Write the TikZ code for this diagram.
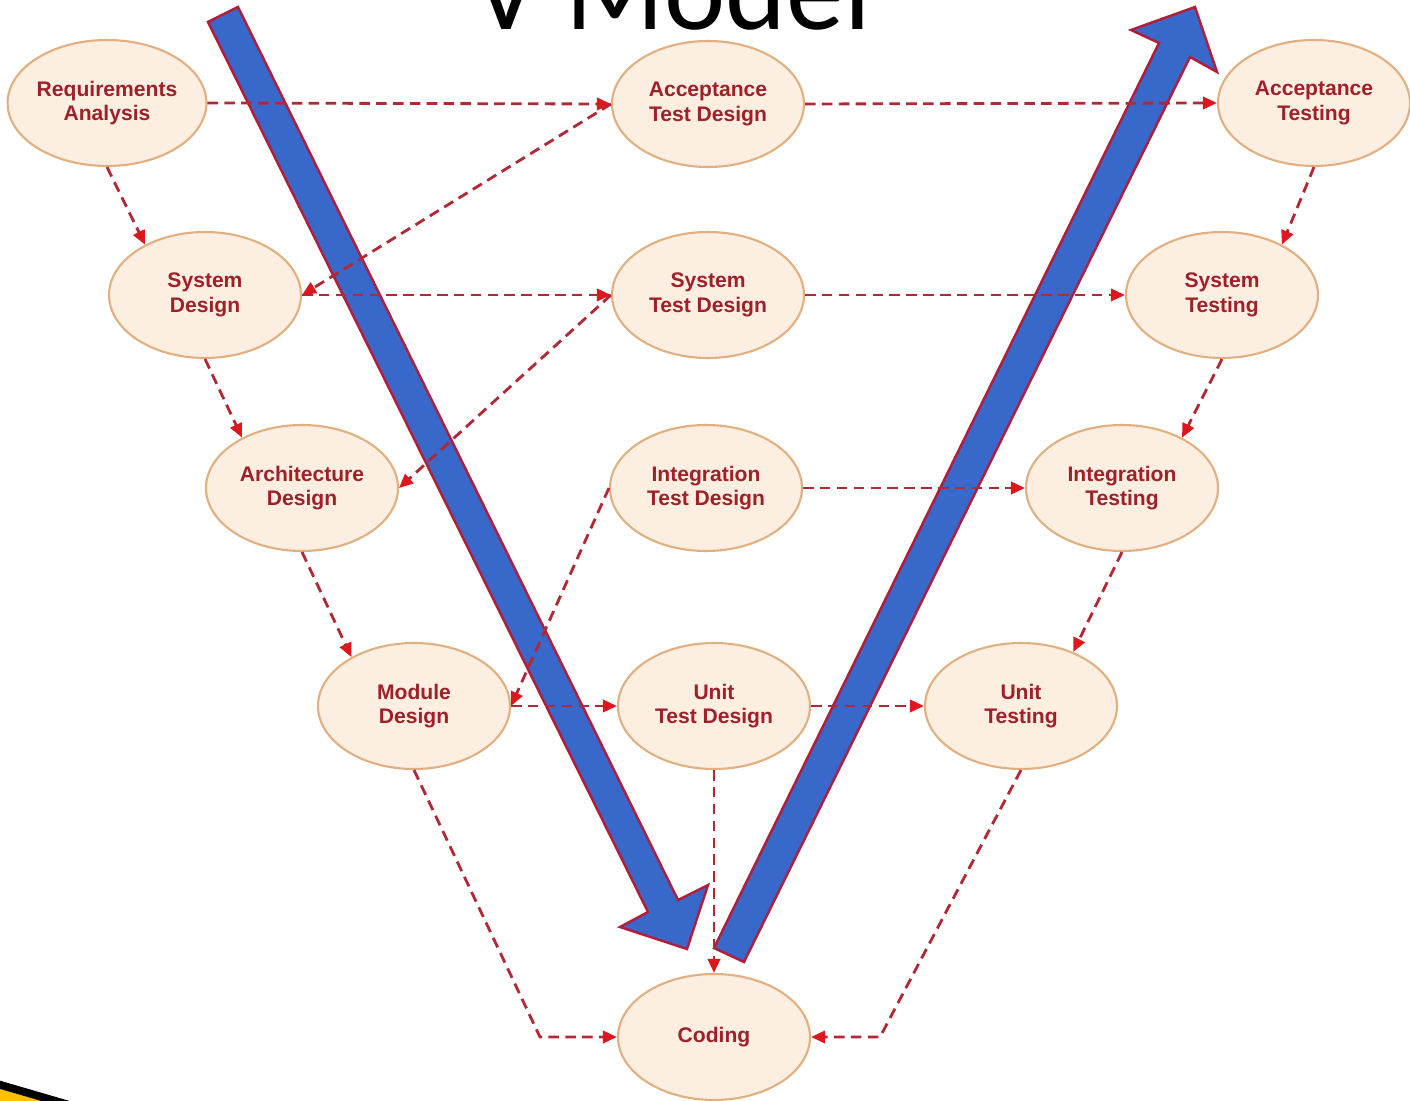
\documentclass[tikz,border=0pt]{standalone}
\usepackage{fontspec}
\setmainfont{Liberation Sans}
\newfontfamily\titlefont{Carlito}
\usetikzlibrary{shapes.geometric,arrows.meta}

\definecolor{phaseline}{RGB}{226,176,128}
\definecolor{phasefill}{RGB}{253,238,226}
\definecolor{phasetext}{RGB}{160,32,40}
\definecolor{linkred}{RGB}{178,40,52}
\definecolor{tipred}{RGB}{222,22,30}
\definecolor{flowblue}{RGB}{56,104,202}
\definecolor{flowedge}{RGB}{176,30,60}
\definecolor{cornerfill}{RGB}{255,192,0}

\tikzset{
  phase/.style={ellipse, draw=phaseline, line width=1.2pt, fill=phasefill,
    minimum width=3.84cm, minimum height=2.52cm, inner sep=0pt, align=center,
    font=\bfseries\fontsize{12}{14}\selectfont, text=phasetext},
  link/.style={draw=linkred, line width=1.6pt, dash pattern=on 6pt off 3.6pt,
    -{Triangle[length=8pt,width=7pt,color=tipred]}},
  flow/.style={fill=flowblue, draw=flowedge, line width=1.4pt, line join=miter}
}

\begin{document}
\begin{tikzpicture}[x=0.02cm,y=-0.02cm]
  \clip (0,0) rectangle (1410,1101);
  \fill[white] (0,0) rectangle (1410,1101);

  % heading, partly above the page edge
  \node[anchor=base, inner sep=0pt, font=\titlefont\fontsize{66}{72}\selectfont] (title) at (672,30) {V Model};

  % corner shape at the lower left
  \filldraw[fill=cornerfill, draw=black, line width=4.5pt] (-30,1076) -- (100,1114) -- (-30,1150) -- cycle;

  % large flow arrows: down the left side, up the right side
  \filldraw[flow] (208,22) -- (238,7) -- (678,900) -- (708,885) -- (687,949) -- (620,927) -- (648,912) -- cycle;
  \filldraw[flow] (714,948) -- (1159,43) -- (1131,30) -- (1195,7) -- (1217,72) -- (1190,57) -- (744,962) -- cycle;

  % phases
  \node[phase] (req)    at (107,103)  {Requirements\\Analysis};
  \node[phase] (atd)    at (708,104)  {Acceptance\\Test Design};
  \node[phase] (at)     at (1314,103) {Acceptance\\Testing};
  \node[phase] (sd)     at (205,295)  {System\\Design};
  \node[phase] (std)    at (708,295)  {System\\Test Design};
  \node[phase] (st)     at (1222,295) {System\\Testing};
  \node[phase] (ad)     at (302,488)  {Architecture\\Design};
  \node[phase] (itd)    at (706,488)  {Integration\\Test Design};
  \node[phase] (it)     at (1122,488) {Integration\\Testing};
  \node[phase] (md)     at (414,706)  {Module\\Design};
  \node[phase] (utd)    at (714,706)  {Unit\\Test Design};
  \node[phase] (ut)     at (1021,706) {Unit\\Testing};
  \node[phase] (coding) at (714,1037) {Coding};

  \coordinate (mdbend) at (540,1037);
  \coordinate (utbend) at (880,1037);

  % left branch: design steps
  \draw[link] (req.south) -- (sd.140);
  \draw[link] (sd.south) -- (ad.140);
  \draw[link] (ad.south) -- (md.142);
  \draw[link] (md.south) -- (mdbend) -- (coding.west);

  % right branch: testing steps
  \draw[link] (at.south) -- (st.40);
  \draw[link] (st.south) -- (it.40);
  \draw[link] (it.south) -- (ut.46);
  \draw[link] (ut.south) -- (utbend) -- (coding.east);

  % design to test design
  \draw[link] (req.east) -- (atd.west);
  \draw[link] (sd.east) -- (std.west);
  \draw[link] (md.east) -- (utd.west);

  % test design back to the next design level
  \draw[link] (atd.west) -- (sd.east);
  \draw[link] (std.west) -- (ad.east);
  \draw[link] (itd.west) -- (md.east);

  % test design to testing
  \draw[link] (atd.east) -- (at.west);
  \draw[link] (std.east) -- (st.west);
  \draw[link] (itd.east) -- (it.west);
  \draw[link] (utd.east) -- (ut.west);
  \draw[link] (utd.south) -- (coding.north);
\end{tikzpicture}
\end{document}
